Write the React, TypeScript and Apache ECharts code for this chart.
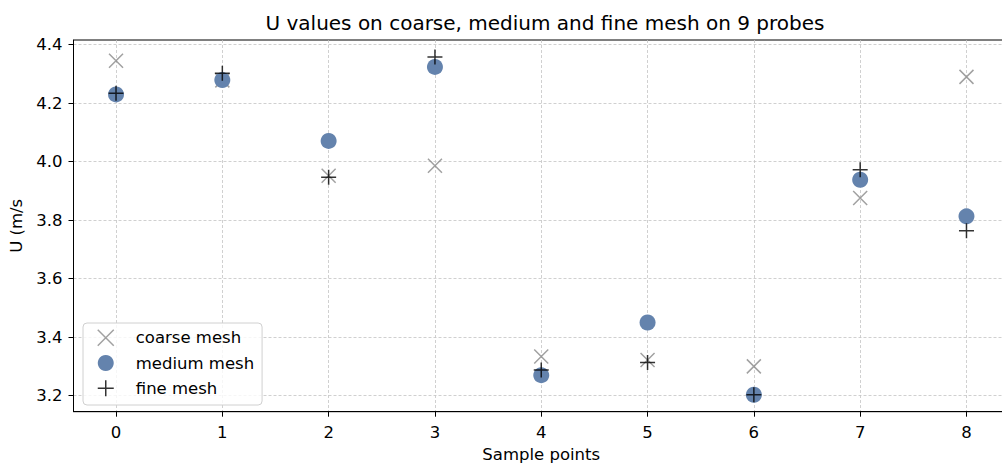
import React, { useEffect, useRef } from "react";
import * as echarts from "echarts";

// Probe indices and U (m/s) read on each mesh
const probes = [0, 1, 2, 3, 4, 5, 6, 7, 8];
const coarseMesh = [4.345, 4.278, 3.952, 3.986, 3.334, 3.322, 3.3, 3.876, 4.29];
const mediumMesh = [4.23, 4.279, 4.071, 4.324, 3.27, 3.45, 3.203, 3.938, 3.813];
const fineMesh = [4.234, 4.302, 3.947, 4.358, 3.288, 3.313, 3.203, 3.972, 3.764];

const xTicks = [0, 1, 2, 3, 4, 5, 6, 7, 8];
const yTicks = [3.2, 3.4, 3.6, 3.8, 4.0, 4.2, 4.4];

const FONT = "DejaVu Sans";
const LABEL_SIZE = 16.5;
const CROSS = "path://M0,0L10,10M10,0L0,10";
const PLUS = "path://M5,0L5,10M0,5L10,5";

const toPoints = (ys: number[]) => probes.map((x, i) => [x, ys[i]]);

export default function App() {
  const ref = useRef<HTMLDivElement>(null);

  useEffect(() => {
    if (!ref.current) return;
    const chart = echarts.init(ref.current, null, { renderer: "svg" });
    const gridLine = {
      show: true,
      lineStyle: { color: "#c4c4c4", width: 0.8, type: [3, 2] },
    };
    const labelText = { fontFamily: FONT, fontSize: LABEL_SIZE, color: "#000" };
    chart.setOption({
      animation: false,
      backgroundColor: "#ffffff",
      title: {
        text: "U values on coarse, medium and fine mesh on 9 probes",
        left: 540,
        top: 8,
        textAlign: "center",
        textStyle: { fontFamily: FONT, fontSize: 20, fontWeight: "normal", color: "#000" },
      },
      grid: {
        left: 73.5,
        top: 40,
        width: 935.5,
        height: 371.7,
        outerBoundsMode: "none",
        containLabel: false,
        show: true,
        borderColor: "#000",
        borderWidth: 1,
        backgroundColor: "transparent",
      },
      xAxis: {
        type: "value",
        min: -0.4,
        max: 8.4,
        name: "Sample points",
        nameLocation: "middle",
        nameGap: 33,
        nameTextStyle: labelText,
        axisLine: { show: true, onZero: false, lineStyle: { color: "#000", width: 1 } },
        axisTick: { show: true, length: 5, customValues: xTicks, lineStyle: { color: "#000" } },
        axisLabel: { ...labelText, customValues: xTicks, margin: 12 },
        splitLine: gridLine,
      },
      yAxis: {
        type: "value",
        min: 3.145,
        max: 4.416,
        name: "U (m/s",
        nameLocation: "middle",
        nameGap: 44,
        nameTextStyle: labelText,
        axisLine: { show: true, onZero: false, lineStyle: { color: "#000", width: 1 } },
        axisTick: { show: true, length: 5, customValues: yTicks, lineStyle: { color: "#000" } },
        axisLabel: {
          ...labelText,
          customValues: yTicks,
          formatter: (v: number) => v.toFixed(1),
          margin: 11,
        },
        splitLine: gridLine,
      },
      legend: {
        orient: "vertical",
        left: 83,
        top: 323,
        itemWidth: 16,
        itemHeight: 16,
        itemGap: 8,
        padding: [6, 8, 8, 14],
        backgroundColor: "rgba(255,255,255,0.8)",
        borderColor: "#d0d0d0",
        borderWidth: 1,
        borderRadius: 4,
        textStyle: { ...labelText, lineHeight: 16, padding: [0, 0, 0, 17] },
        data: [
          {
            name: "coarse mesh",
            icon: CROSS,
            itemStyle: { color: "transparent", borderColor: "#8a8a8a", borderWidth: 1.5 },
          },
          { name: "medium mesh", icon: "circle", itemStyle: { color: "#6483ad" } },
          {
            name: "fine mesh",
            icon: PLUS,
            itemStyle: { color: "transparent", borderColor: "#000", borderWidth: 1.5 },
          },
        ],
      },
      series: [
        {
          name: "coarse mesh",
          type: "scatter",
          data: toPoints(coarseMesh),
          symbol: CROSS,
          symbolSize: 14,
          z: 2,
          itemStyle: { color: "transparent", borderColor: "#8a8a8a", borderWidth: 1.5 },
        },
        {
          name: "medium mesh",
          type: "scatter",
          data: toPoints(mediumMesh),
          symbol: "circle",
          symbolSize: 16,
          z: 3,
          itemStyle: { color: "#6483ad", opacity: 1 },
        },
        {
          name: "fine mesh",
          type: "scatter",
          data: toPoints(fineMesh),
          symbol: PLUS,
          symbolSize: 15,
          z: 4,
          itemStyle: { color: "transparent", borderColor: "#000", borderWidth: 1.5 },
        },
      ],
    });
    return () => chart.dispose();
  }, []);

  return (
    <div style={{ position: "fixed", left: 0, top: 0, width: 1002, height: 465, overflow: "hidden" }}>
      <div ref={ref} style={{ width: 1012, height: 465 }} />
    </div>
  );
}
